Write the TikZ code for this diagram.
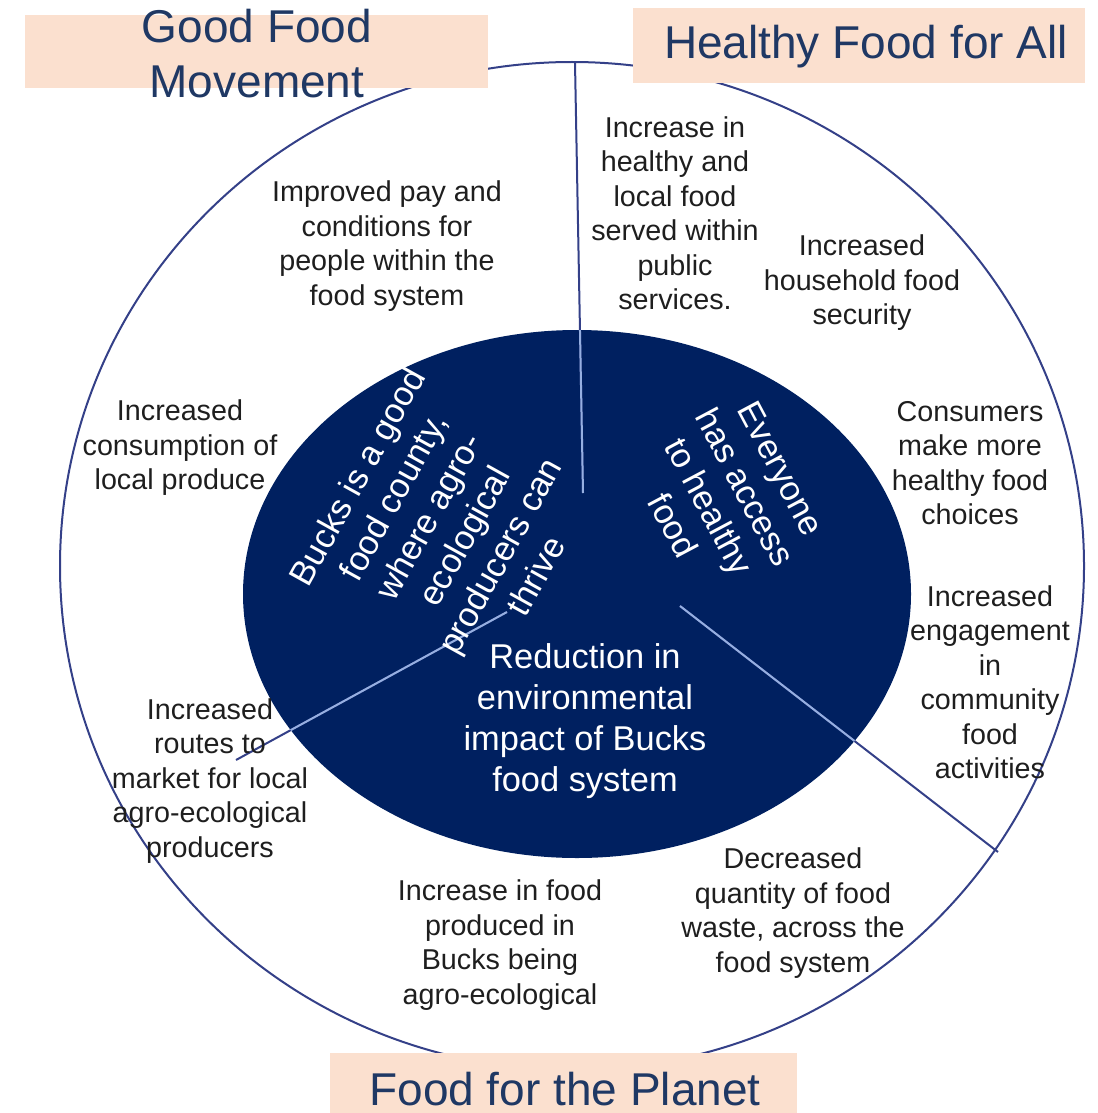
\documentclass[tikz,border=0pt]{standalone}
\usepackage{fontspec}
\setmainfont{Liberation Sans}
\usetikzlibrary{shapes.geometric}
\definecolor{peach}{RGB}{251,224,207}
\definecolor{navy}{RGB}{0,32,96}
\definecolor{headtext}{RGB}{31,56,100}
\definecolor{bodytext}{RGB}{30,30,30}
\definecolor{rimline}{RGB}{52,64,136}
\definecolor{paleline}{RGB}{150,175,225}
\tikzstyle{outcome} = [align=center, inner sep=0pt, text=bodytext, font=\fontsize{14.35}{17.25}\selectfont]
\tikzstyle{goal} = [align=center, inner sep=0pt, text=white, font=\fontsize{17.2}{20.4}\selectfont]
\tikzstyle{theme} = [align=center, inner sep=0pt, text=headtext, font=\fontsize{23}{27.5}\selectfont]
\tikzstyle{divider} = [line width=1pt, draw=rimline]

\begin{document}
\begin{tikzpicture}[x=0.5pt, y=-0.5pt]
        \useasboundingbox (0,0) rectangle (1097,1113);
        \draw [divider] (572,566) ellipse [x radius=512, y radius=504];
        \fill [navy] (577,594) ellipse [x radius=334, y radius=264];
        \coordinate (hub-a) at (583,493);
        \coordinate (rim-a) at (575,63);
        \coordinate (hub-b) at (507,612);
        \coordinate (rim-b) at (236,760);
        \coordinate (hub-c) at (680,606);
        \coordinate (rim-c) at (998,852);
        \draw [divider] (hub-a) -- (rim-a);
        \draw [divider] (hub-b) -- (rim-b);
        \draw [divider] (hub-c) -- (rim-c);
        \begin{scope}
            \clip (577,594) ellipse [x radius=334, y radius=264];
            \draw [divider, draw=paleline] (hub-a) -- (rim-a);
            \draw [divider, draw=paleline] (hub-b) -- (rim-b);
            \draw [divider, draw=paleline] (hub-c) -- (rim-c);
        \end{scope}
        \fill [peach] (25,15) rectangle (488,88);
        \fill [peach] (633,8) rectangle (1085,83);
        \fill [peach] (330,1053) rectangle (797,1113);
        \node (movement) [theme] at (257,54) {Good Food\\Movement};
        \node (health) [theme] at (866,47) {Healthy Food for All};
        \node (planet) [theme] at (565,1089) {Food for the Planet};
        \node (pay) [outcome] at (387,246) {Improved pay and\\conditions for\\people within the\\food system};
        \node (public) [outcome] at (675,213) {Increase in\\healthy and\\local food\\served within\\public\\services.};
        \node (household) [outcome] at (862,283) {Increased\\household food\\security};
        \node (consumption) [outcome] at (180,448) {Increased\\consumption of\\local produce};
        \node (choices) [outcome] at (970,463) {Consumers\\make more\\healthy food\\choices};
        \node (engagement) [outcome] at (990,682) {Increased\\engagement\\in\\community\\food\\activities};
        \node (routes) [outcome] at (210,781) {Increased\\routes to\\market for local\\agro-ecological\\producers};
        \node (produced) [outcome] at (500,945) {Increase in food\\produced in\\Bucks being\\agro-ecological};
        \node (waste) [outcome] at (793,913) {Decreased\\quantity of food\\waste, across the\\food system};
        \node (reduction) [goal] at (585,721) {Reduction in\\environmental\\impact of Bucks\\food system};
        \node (county) [goal, rotate=61] at (446,526) {Bucks is a good\\food county,\\where agro-\\ecological\\producers can\\thrive};
        \node (access) [goal, rotate=-62] at (727,497) {Everyone\\has access\\to healthy\\food};
    \end{tikzpicture}
\end{document}
